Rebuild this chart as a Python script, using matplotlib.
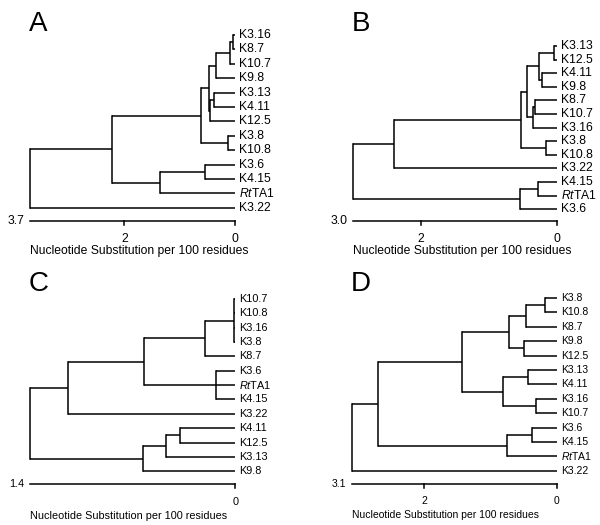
import matplotlib
matplotlib.use("Agg")
import matplotlib.pyplot as plt

plt.rcParams["font.family"] = ["Liberation Sans", "DejaVu Sans"]
plt.rcParams["mathtext.fontset"] = "custom"
plt.rcParams["mathtext.rm"] = "Liberation Sans"
plt.rcParams["mathtext.it"] = "Liberation Sans:italic"

RT = r"$\mathit{Rt}$TA1"

# panel A: leaves top to bottom, merges as (children, height); ids >= 13 are earlier merges
leaves_a = ["K3.16", "K8.7", "K10.7", "K9.8", "K3.13", "K4.11", "K12.5",
            "K3.8", "K10.8", "K3.6", "K4.15", RT, "K3.22"]
merges_a = [((0, 1), 0.05), ((13, 2), 0.10), ((14, 3), 0.34), ((4, 5), 0.38),
            ((16, 6), 0.46), ((15, 17), 0.48), ((7, 8), 0.13), ((18, 19), 0.61),
            ((9, 10), 0.55), ((21, 11), 1.36), ((20, 22), 2.23), ((23, 12), 3.70)]
scale_a = 3.7
ticks_a = [2, 0]

leaves_b = ["K3.13", "K12.5", "K4.11", "K9.8", "K8.7", "K10.7", "K3.16",
            "K3.8", "K10.8", "K3.22", "K4.15", RT, "K3.6"]
merges_b = [((0, 1), 0.05), ((2, 3), 0.23), ((13, 14), 0.27), ((4, 5), 0.33),
            ((16, 6), 0.35), ((15, 17), 0.44), ((7, 8), 0.16), ((18, 19), 0.53),
            ((20, 9), 2.40), ((10, 11), 0.29), ((22, 12), 0.55), ((21, 23), 3.0)]
scale_b = 3.0
ticks_b = [2, 0]

leaves_c = ["K10.7", "K10.8", "K3.16", "K3.8", "K8.7", "K3.6", RT,
            "K4.15", "K3.22", "K4.11", "K12.5", "K3.13", "K9.8"]
merges_c = [((0, 1, 2, 3), 0.01), ((13, 4), 0.21), ((5, 6, 7), 0.13), ((14, 15), 0.62),
            ((16, 8), 1.14), ((9, 10), 0.38), ((18, 11), 0.475), ((19, 12), 0.63),
            ((17, 20), 1.40)]
scale_c = 1.4
ticks_c = [0]

leaves_d = ["K3.8", "K10.8", "K8.7", "K9.8", "K12.5", "K3.13", "K4.11",
            "K3.16", "K10.7", "K3.6", "K4.15", RT, "K3.22"]
merges_d = [((0, 1), 0.17), ((13, 2), 0.47), ((3, 4), 0.49), ((14, 15), 0.72),
            ((5, 6), 0.44), ((7, 8), 0.32), ((17, 18), 0.81), ((16, 19), 1.43),
            ((9, 10), 0.38), ((21, 11), 0.75), ((20, 22), 2.70), ((23, 12), 3.1)]
scale_d = 3.1
ticks_d = [2, 0]

W, H = 600, 525
LW = 1.1


def draw_tree(fig, letter, leaves, merges, scale_max, ticks,
              x_left, x_zero, y_top, step, y_bar, y_tick, y_label, fs):
    ax = fig.add_axes([x_left / W, 1 - y_bar / H,
                       (x_zero - x_left) / W, (y_bar - y_top) / H])
    n_bar = (y_bar - y_top) / step
    ax.set_xlim(scale_max, 0)
    ax.set_ylim(n_bar, 0)
    ax.axis("off")

    pos = {i: (0.0, float(i)) for i in range(len(leaves))}
    for k, (kids, h) in enumerate(merges):
        ys = [pos[c][1] for c in kids]
        for c in kids:
            ax.plot([pos[c][0], h], [pos[c][1]] * 2, color="black", lw=LW,
                    clip_on=False, solid_capstyle="butt")
        ax.plot([h, h], [min(ys), max(ys)], color="black", lw=LW,
                clip_on=False, solid_capstyle="projecting")
        pos[len(leaves) + k] = (h, sum(ys) / len(ys))

    for i, name in enumerate(leaves):
        ax.annotate(name, (0, i), xytext=(3, 0), textcoords="offset points",
                    va="center", ha="left", fontsize=fs)

    # scale bar
    ax.plot([scale_max, 0], [n_bar, n_bar], color="black", lw=LW, clip_on=False)
    for t in ticks:
        ax.plot([t, t], [n_bar, n_bar + 3.5 / step], color="black", lw=LW, clip_on=False)
        ax.text(t, (y_tick - y_top) / step, str(t), ha="center", va="center", fontsize=fs)
    ax.annotate(f"{scale_max:.1f}", (scale_max, n_bar), xytext=(-4, 0),
                textcoords="offset points", ha="right", va="center", fontsize=fs)

    fig.text(x_left / W, 1 - y_label / H, "Nucleotide Substitution per 100 residues",
             ha="left", va="center", fontsize=fs)
    fig.text((x_left - 1) / W, 1 - 31 / H if y_top < 260 else 1 - 291 / H, letter,
             ha="left", va="baseline", fontsize=20)


fig = plt.figure(figsize=(6, 5.25), dpi=100)
draw_tree(fig, "A", leaves_a, merges_a, scale_a, ticks_a,
          30, 235.3, 35, 14.4, 221, 239, 251, 8.7)
draw_tree(fig, "B", leaves_b, merges_b, scale_b, ticks_b,
          352.7, 557.3, 46, 13.6, 221, 239, 251, 8.7)
draw_tree(fig, "C", leaves_c, merges_c, scale_c, ticks_c,
          30, 235.3, 299, 14.35, 484, 502, 516, 7.8)
draw_tree(fig, "D", leaves_d, merges_d, scale_d, ticks_d,
          351.7, 556.7, 298, 14.4, 484, 501, 515, 7.5)

fig.savefig("out.png", dpi=100)
